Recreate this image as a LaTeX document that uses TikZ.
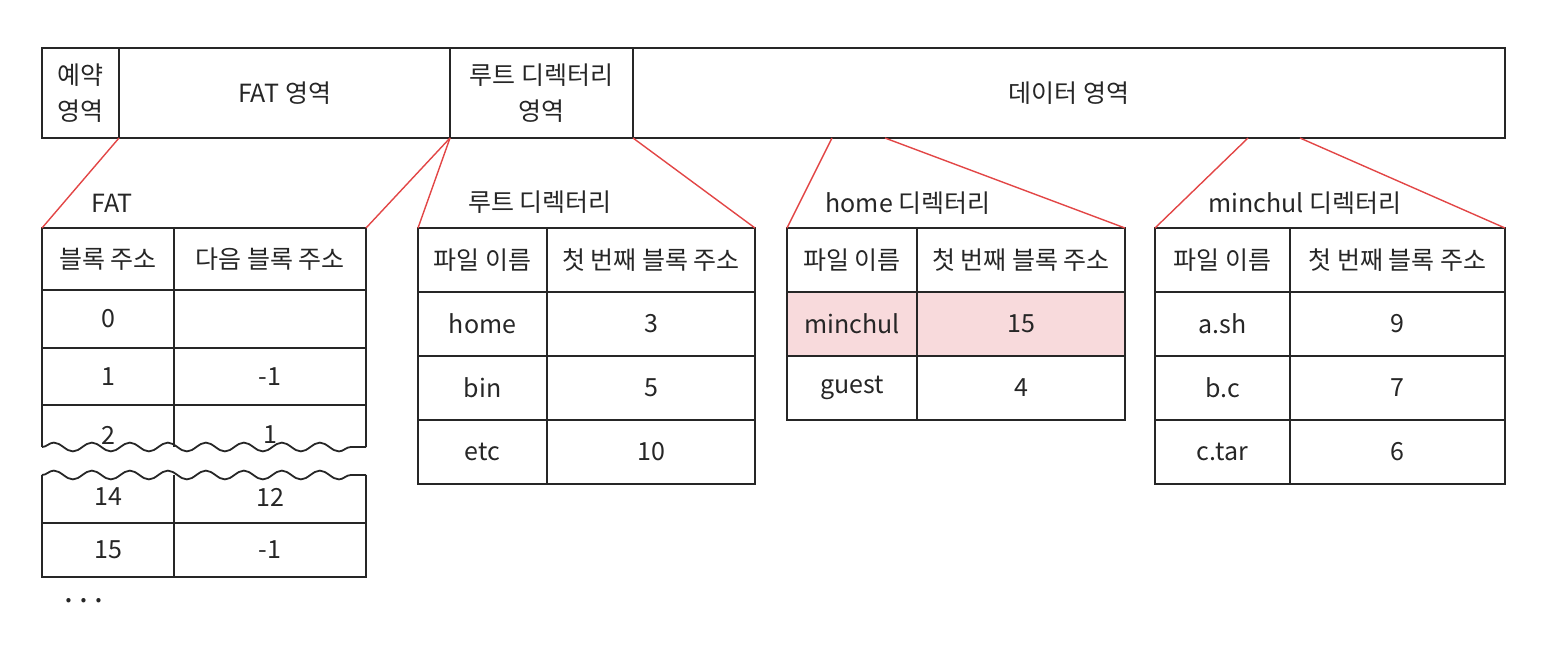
\documentclass[tikz,border=0pt]{standalone}
\usepackage{fontspec}
\setmainfont{Noto Sans CJK KR}
\usetikzlibrary{positioning,decorations.pathmorphing}
\colorlet{gline}{black!85}
\definecolor{zoom}{RGB}{226,70,70}
\definecolor{hit}{RGB}{248,218,220}

\begin{document}
\begin{tikzpicture}[
            x=0.5pt,y=-0.5pt,
            every node/.append style={gline,font=\fontsize{12.5}{18}\selectfont},
            bar/.style={draw=gline,line width=0.9pt,inner sep=0pt,outer sep=0pt,
                anchor=north west,minimum height=45pt,align=center},
            cell/.style={draw=gline,line width=0.9pt,inner sep=0pt,outer sep=0pt,
                anchor=north west,minimum height=32pt},
            lens/.style={zoom,line width=0.7pt},
            wave/.style={decorate,decoration={snake,segment length=19pt,amplitude=2.2pt}}
        ]
            \useasboundingbox (0,0) rectangle (1564,666);
            % disk layout
            \node [bar,minimum width=38.5pt] (rsv) at (42,48) {예약\\영역};
            \node [bar,minimum width=165.5pt] (fatarea) at (rsv.north east) {FAT 영역};
            \node [bar,minimum width=91.5pt] (rootarea) at (fatarea.north east) {루트 디렉터리\\영역};
            \node [bar,minimum width=436pt] (dataarea) at (rootarea.north east) {데이터 영역};
            \coordinate (hfrom) at (832,138);
            \coordinate (hto) at (885,138);
            \coordinate (mfrom) at (1248,138);
            \coordinate (mto) at (1300,138);

            % FAT
            \node (fattitle) at (112,203) {FAT};
            \node [cell,minimum width=66pt,minimum height=31pt] (fh1) at (42,228) {블록 주소};
            \node [cell,minimum width=96pt,minimum height=31pt] (fh2) at (fh1.north east) {다음 블록 주소};
            \node [cell,minimum width=66pt,minimum height=29pt] (f0a) at (fh1.south west) {0};
            \node [cell,minimum width=96pt,minimum height=29pt] (f0b) at (f0a.north east) {};
            \node [cell,minimum width=66pt,minimum height=28.5pt] (f1a) at (f0a.south west) {1};
            \node [cell,minimum width=96pt,minimum height=28.5pt] (f1b) at (f1a.north east) {-1};
            \draw [gline,line width=0.9pt] (f1a.south west) -- (42,447);
            \draw [gline,line width=0.9pt] (f1b.south east) -- (366,447);
            \draw [gline,line width=0.9pt] (f1a.south east) -- (174,447);
            \draw [gline,line width=0.9pt,wave] (42,447) -- (366,447);
            \node (f2a) at (108,435) {2};
            \node (f2b) at (270,435) {1};
            \draw [gline,line width=0.9pt,wave] (42,475) -- (366,475);
            \node [cell,minimum width=66pt,minimum height=27pt] (f15a) at (42,523) {15};
            \node [cell,minimum width=96pt,minimum height=27pt] (f15b) at (f15a.north east) {-1};
            \draw [gline,line width=0.9pt] (42,475) -- (f15a.north west);
            \draw [gline,line width=0.9pt] (366,475) -- (f15b.north east);
            \draw [gline,line width=0.9pt] (174,475) -- (f15a.north east);
            \node (f14a) at (108,497) {14};
            \node (f14b) at (270,497) {12};
            \node [font=\fontsize{16}{18}\selectfont] (more) at (84,601) {.\hspace{3pt}.\hspace{3pt}.};

            % root directory
            \node (roottitle) at (540,202) {루트 디렉터리};
            \node [cell,minimum width=64.5pt] (rh1) at (418,228) {파일 이름};
            \node [cell,minimum width=104pt] (rh2) at (rh1.north east) {첫 번째 블록 주소};
            \foreach \name/\addr [count=\i] in {home/3,bin/5,etc/10} {
                \node [cell,minimum width=64.5pt] (r\i a) at (418,228+64*\i) {\name};
                \node [cell,minimum width=104pt] (r\i b) at (r\i a.north east) {\addr};
            }

            % home directory
            \node (hometitle) at (908,203) {home 디렉터리};
            \node [cell,minimum width=65pt] (hh1) at (787,228) {파일 이름};
            \node [cell,minimum width=104pt] (hh2) at (hh1.north east) {첫 번째 블록 주소};
            \node [cell,fill=hit,minimum width=65pt] (h1a) at (hh1.south west) {minchul};
            \node [cell,fill=hit,minimum width=104pt] (h1b) at (h1a.north east) {15};
            \node [cell,minimum width=65pt] (h2a) at (h1a.south west) {guest};
            \node [cell,minimum width=104pt] (h2b) at (h2a.north east) {4};

            % minchul directory
            \node (mintitle) at (1305,203) {minchul 디렉터리};
            \node [cell,minimum width=67.5pt] (mh1) at (1155,228) {파일 이름};
            \node [cell,minimum width=107.5pt] (mh2) at (mh1.north east) {첫 번째 블록 주소};
            \foreach \name/\addr [count=\i] in {a.sh/9,b.c/7,c.tar/6} {
                \node [cell,minimum width=67.5pt] (m\i a) at (1155,228+64*\i) {\name};
                \node [cell,minimum width=107.5pt] (m\i b) at (m\i a.north east) {\addr};
            }

            % zoom lines
            \draw [lens] (rsv.south east) -- (fh1.north west);
            \draw [lens] (fatarea.south east) -- (fh2.north east);
            \draw [lens] (rootarea.south west) -- (rh1.north west);
            \draw [lens] (rootarea.south east) -- (rh2.north east);
            \draw [lens] (hfrom) -- (hh1.north west);
            \draw [lens] (hto) -- (hh2.north east);
            \draw [lens] (mfrom) -- (mh1.north west);
            \draw [lens] (mto) -- (mh2.north east);
        \end{tikzpicture}
\end{document}
